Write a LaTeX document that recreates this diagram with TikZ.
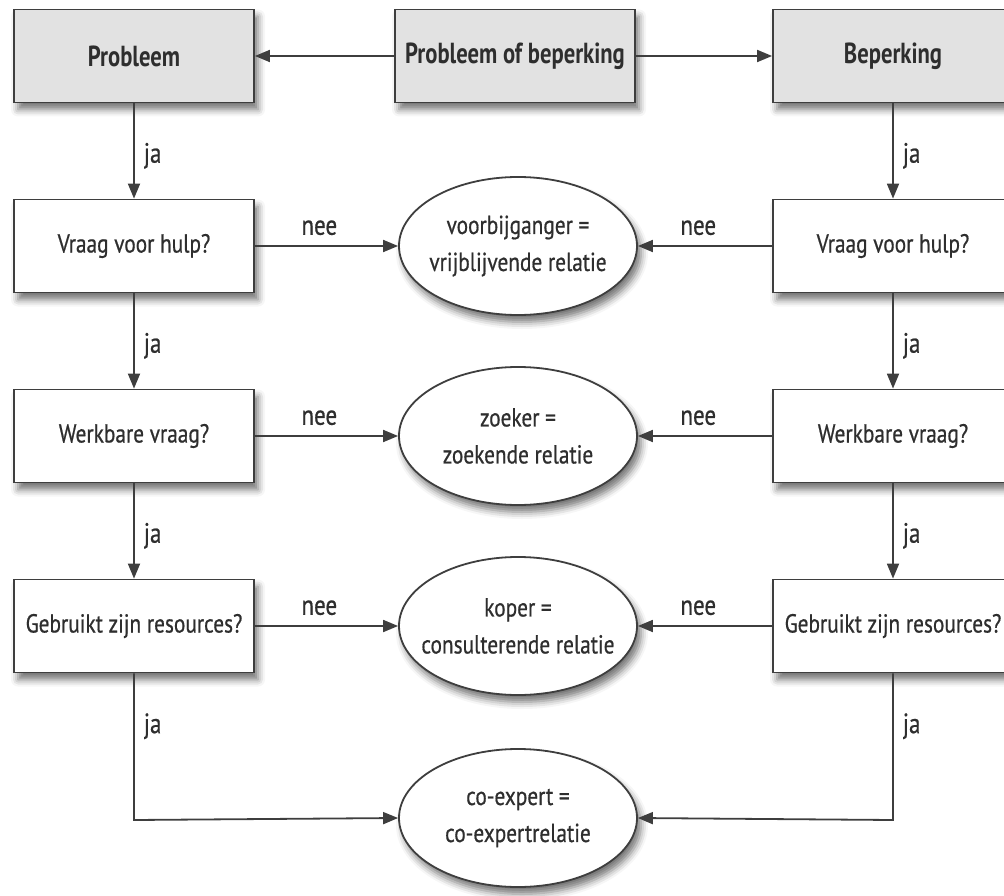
\documentclass[tikz,border=0pt]{standalone}
\usepackage{fontspec}
\setmainfont{PT Sans}[FakeStretch=0.82,FakeBold=0.6,BoldFeatures={FakeStretch=0.78,FakeBold=0}]
\usetikzlibrary{arrows.meta,shadows.blur,shapes.geometric}
\definecolor{linec}{HTML}{3E3E3E}
\definecolor{txt}{HTML}{2E2E2E}
\definecolor{topfill}{HTML}{E2E2E2}
\begin{document}
\begin{tikzpicture}[x=1pt,y=1pt,
  shad/.style={blur shadow={shadow xshift=4pt,shadow yshift=-7pt,shadow blur radius=7pt,shadow opacity=55}},
  box/.style={rectangle,draw=linec,line width=1.8pt,minimum width=240pt,minimum height=93pt,fill=white,shad,font=\fontsize{26}{30}\selectfont,text=txt,inner sep=0pt},
  topbox/.style={box,fill=topfill,font=\fontsize{29}{34}\selectfont\bfseries},
  ell/.style={ellipse,draw=linec,line width=1.8pt,minimum width=238pt,minimum height=138pt,fill=white,shad,align=center,font=\fontsize{26}{37}\selectfont,text=txt,inner xsep=-30pt,inner ysep=0pt},
  arr/.style={draw=linec,line width=1.8pt,-{Triangle[length=15pt,width=12pt]}},
  lab/.style={font=\fontsize{28}{30}\selectfont,text=txt,inner sep=0pt}]
\useasboundingbox (0,0) rectangle (1004,-896);
% top row
\node[topbox] (prob) at (134,-56) {Probleem};
\node[topbox] (pob) at (515,-56) {Probleem of beperking};
\node[topbox] (bep) at (893,-56) {Beperking};
% left column
\node[box] (l2) at (134,-246) {Vraag voor hulp?};
\node[box] (l3) at (134,-436) {Werkbare vraag?};
\node[box] (l4) at (134,-626) {Gebruikt zijn resources?};
% right column
\node[box] (r2) at (893,-246) {Vraag voor hulp?};
\node[box] (r3) at (893,-436) {Werkbare vraag?};
\node[box] (r4) at (893,-626) {Gebruikt zijn resources?};
% ellipses
\node[ell] (e1) at (518,-246) {voorbijganger =\\vrijblijvende relatie};
\node[ell] (e2) at (518,-436) {zoeker =\\zoekende relatie};
\node[ell] (e3) at (518,-626) {koper =\\consulterende relatie};
\node[ell] (e4) at (518,-818) {co-expert =\\co-expertrelatie};
% corner coordinates
\coordinate (cl) at (134,-820);
\coordinate (cr) at (893,-820);
% connectors
\draw[arr] (pob.west) -- (prob.east);
\draw[arr] (pob.east) -- (bep.west);
\draw[arr] (prob.south) -- node[lab,right=9pt,pos=0.55] {ja} (l2.north);
\draw[arr] (l2.south) -- node[lab,right=9pt,pos=0.55] {ja} (l3.north);
\draw[arr] (l3.south) -- node[lab,right=9pt,pos=0.55] {ja} (l4.north);
\draw[arr] (bep.south) -- node[lab,right=9pt,pos=0.55] {ja} (r2.north);
\draw[arr] (r2.south) -- node[lab,right=9pt,pos=0.55] {ja} (r3.north);
\draw[arr] (r3.south) -- node[lab,right=9pt,pos=0.55] {ja} (r4.north);
\draw[arr] (l2.east) -- node[lab,above=10pt,pos=0.45] {nee} (e1.west);
\draw[arr] (l3.east) -- node[lab,above=10pt,pos=0.45] {nee} (e2.west);
\draw[arr] (l4.east) -- node[lab,above=10pt,pos=0.45] {nee} (e3.west);
\draw[arr] (r2.west) -- node[lab,above=10pt,pos=0.55] {nee} (e1.east);
\draw[arr] (r3.west) -- node[lab,above=10pt,pos=0.55] {nee} (e2.east);
\draw[arr] (r4.west) -- node[lab,above=10pt,pos=0.55] {nee} (e3.east);
\draw[arr] (l4.south) -- node[lab,right=9pt,pos=0.36] {ja} (cl) -- (e4.west);
\draw[arr] (r4.south) -- node[lab,right=9pt,pos=0.36] {ja} (cr) -- (e4.east);
\end{tikzpicture}
\end{document}
